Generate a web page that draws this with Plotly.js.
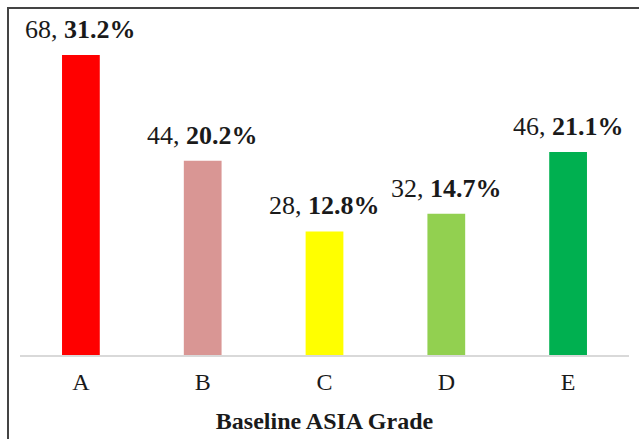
<!DOCTYPE html>
<html>
<head>
<meta charset="utf-8">
<script src="https://cdn.plot.ly/plotly-3.0.1.min.js"></script>
<style>
html,body{margin:0;padding:0;background:#fff;}
#wrap{position:relative;width:639px;height:439px;}
#chart{position:absolute;left:0;top:0;width:639px;height:439px;}
#frame{position:absolute;left:7px;top:7px;width:632px;height:432px;border-left:2px solid #444;border-top:2px solid #444;box-sizing:border-box;pointer-events:none;}
</style>
</head>
<body>
<div id="wrap"><div id="chart"></div><div id="frame"></div></div>
<script>
const categories = ['A', 'B', 'C', 'D', 'E'];
const counts = [68, 44, 28, 32, 46];
const percents = ['31.2%', '20.2%', '12.8%', '14.7%', '21.1%'];
const colors = ['#ff0000', '#d99694', '#ffff00', '#92d050', '#00b050'];
const xTitle = 'Baseline ASIA Grade';

const font = 'Liberation Serif, Times New Roman, serif';

const trace = {
  type: 'bar',
  x: categories,
  y: counts,
  marker: {color: colors, line: {width: 0}},
  width: 0.31,
  hoverinfo: 'skip'
};

const annotations = categories.map((c, i) => ({
  x: c, y: counts[i], xref: 'x', yref: 'y',
  text: counts[i] + ', <b>' + percents[i] + '</b>',
  showarrow: false, yanchor: 'bottom', xanchor: 'center',
  yshift: 9,
  font: {family: font, size: 26, color: '#1a1a1a'}
}));

const layout = {
  width: 639, height: 439,
  margin: {l: 20, r: 10, t: 23.5, b: 84, pad: 0},
  paper_bgcolor: '#fff', plot_bgcolor: '#fff',
  showlegend: false,
  xaxis: {
    type: 'category',
    showline: true, linecolor: '#d9d9d9', linewidth: 1.5,
    showgrid: false, zeroline: false,
    ticks: '', ticklabelstandoff: 5,
    tickfont: {family: font, size: 24, color: '#1a1a1a'},
    title: {text: '<b>' + xTitle + '</b>', font: {family: font, size: 24, color: '#1a1a1a'}, standoff: 18}
  },
  yaxis: {
    range: [0, 75], visible: false, showgrid: false, zeroline: false
  },
  annotations: annotations
};

Plotly.newPlot('chart', [trace], layout, {displayModeBar: false, staticPlot: true});
</script>
</body>
</html>
